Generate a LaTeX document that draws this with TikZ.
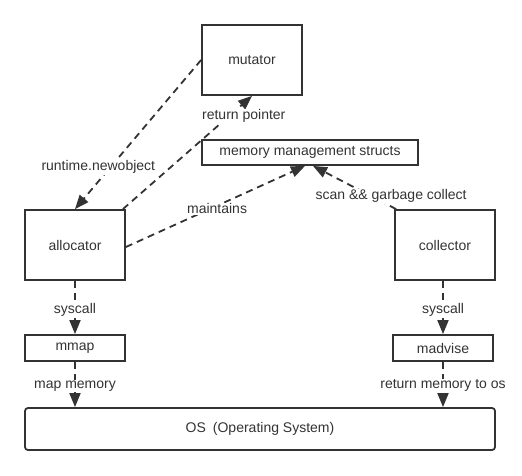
\documentclass[tikz,border=0pt]{standalone}
\usepackage{fontspec}
\setmainfont{Liberation Sans}
\usepackage{xcolor}
\usetikzlibrary{arrows.meta}
\definecolor{ink}{HTML}{333333}

\begin{document}
\begin{tikzpicture}[x=1pt, y=-1pt, font=\fontsize{14}{16}\selectfont, text=ink,
		box/.style={draw=ink, line width=1.8pt, inner sep=0pt},
		link/.style={draw=ink, line width=1.8pt, dash pattern=on 7pt off 5pt,
			-{Triangle[length=14pt, width=11pt]}},
		lbl/.style={fill=white, inner sep=1pt}]
		\useasboundingbox (0,0) rectangle (522,475);
		\node[box, minimum width=100pt, minimum height=70pt] (mutator) at (252,60) {mutator};
		\node[box, minimum width=216pt, minimum height=25pt] (structs) at (310,152.5) {memory management structs};
		\node[box, minimum width=100pt, minimum height=70pt] (allocator) at (75,245) {allocator};
		\node[box, minimum width=100pt, minimum height=70pt] (collector) at (445,245) {collector};
		\node[box, minimum width=100pt, minimum height=26pt] (mmap) at (75,348) {mmap};
		\node[box, minimum width=100pt, minimum height=26pt] (madvise) at (443,348) {madvise};
		\node[box, rounded corners=3pt, minimum width=470pt, minimum height=42pt] (os) at (260,429)
			{OS\enspace(Operating System)};
		\draw[link] (mutator.west) -- node[lbl, pos=0.72, xshift=-12pt] {runtime.newobject} (allocator.north);
		\draw[link] ([xshift=-3pt]allocator.north east) -- node[lbl, pos=0.82, xshift=15pt] {return pointer} (mutator.south);
		\draw[link] ([yshift=-2pt]allocator.east) -- node[lbl, pos=0.47, xshift=7pt] {maintains} ([xshift=-5pt]structs.south);
		\draw[link] ([xshift=2pt]collector.north west) -- node[lbl, pos=0.3, xshift=20pt] {scan \&\& garbage collect} ([xshift=3pt]structs.south);
		\draw[link] (allocator.south) -- node[lbl, pos=0.55] {syscall} (mmap.north);
		\draw[link] (collector.south -| madvise.north) -- node[lbl, pos=0.55] {syscall} (madvise.north);
		\draw[link] (mmap.south) -- node[lbl, pos=0.53] {map memory} (mmap.south |- os.north);
		\draw[link] (madvise.south) -- node[lbl, pos=0.53] {return memory to os} (madvise.south |- os.north);
	\end{tikzpicture}
\end{document}
